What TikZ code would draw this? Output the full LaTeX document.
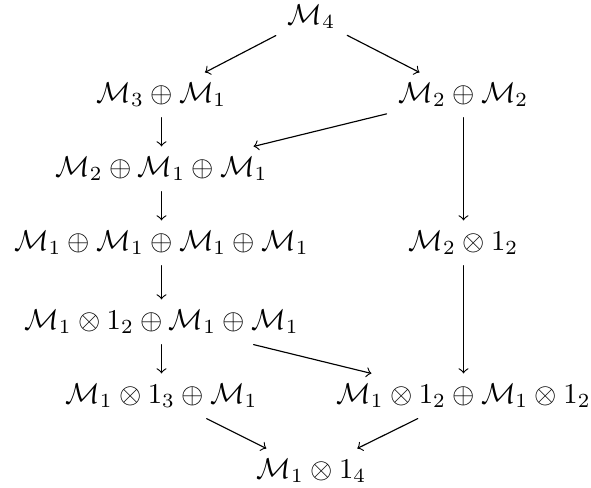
\documentclass[tikz,border=0pt]{standalone}
\usepackage{amsmath}
\begin{document}
\begin{tikzpicture}[x=0.3486pt, y=-0.3486pt, line join=round, line cap=round, >=to,
  every node/.style={inner xsep=4pt, inner ysep=3.5pt}]
  \useasboundingbox (0,0) rectangle (591,487);
  % top
  \node (m4) at (311.5,17) {$\mathcal{M}_4$};
  % left column
  \node (m31) at (161.5,95) {$\mathcal{M}_3\oplus\mathcal{M}_1$};
  \node (m211) at (161.5,169) {$\mathcal{M}_2\oplus\mathcal{M}_1\oplus\mathcal{M}_1$};
  \node (m1111) at (161.5,243) {$\mathcal{M}_1\oplus\mathcal{M}_1\oplus\mathcal{M}_1\oplus\mathcal{M}_1$};
  \node (t211) at (161.5,322) {$\mathcal{M}_1\otimes 1_2\oplus\mathcal{M}_1\oplus\mathcal{M}_1$};
  \node (t31) at (161.5,396) {$\mathcal{M}_1\otimes 1_3\oplus\mathcal{M}_1$};
  % right column
  \node (m22) at (463.5,95) {$\mathcal{M}_2\oplus\mathcal{M}_2$};
  \node (t2) at (463.5,243) {$\mathcal{M}_2\otimes 1_2$};
  \node (t22) at (463.5,396) {$\mathcal{M}_1\otimes 1_2\oplus\mathcal{M}_1\otimes 1_2$};
  % bottom
  \node (t4) at (311.5,471) {$\mathcal{M}_1\otimes 1_4$};
  % arrows
  \draw[->] (m4)--(m31);
  \draw[->] (m4)--(m22);
  \draw[->] (m31)--(m211);
  \draw[->] (m22)--(m211);
  \draw[->] (m211)--(m1111);
  \draw[->] (m22)--(t2);
  \draw[->] (m1111)--(t211);
  \draw[->] (t211)--(t31);
  \draw[->] (t211)--(t22);
  \draw[->] (t2)--(t22);
  \draw[->] (t31)--(t4);
  \draw[->] (t22)--(t4);
\end{tikzpicture}
\end{document}
